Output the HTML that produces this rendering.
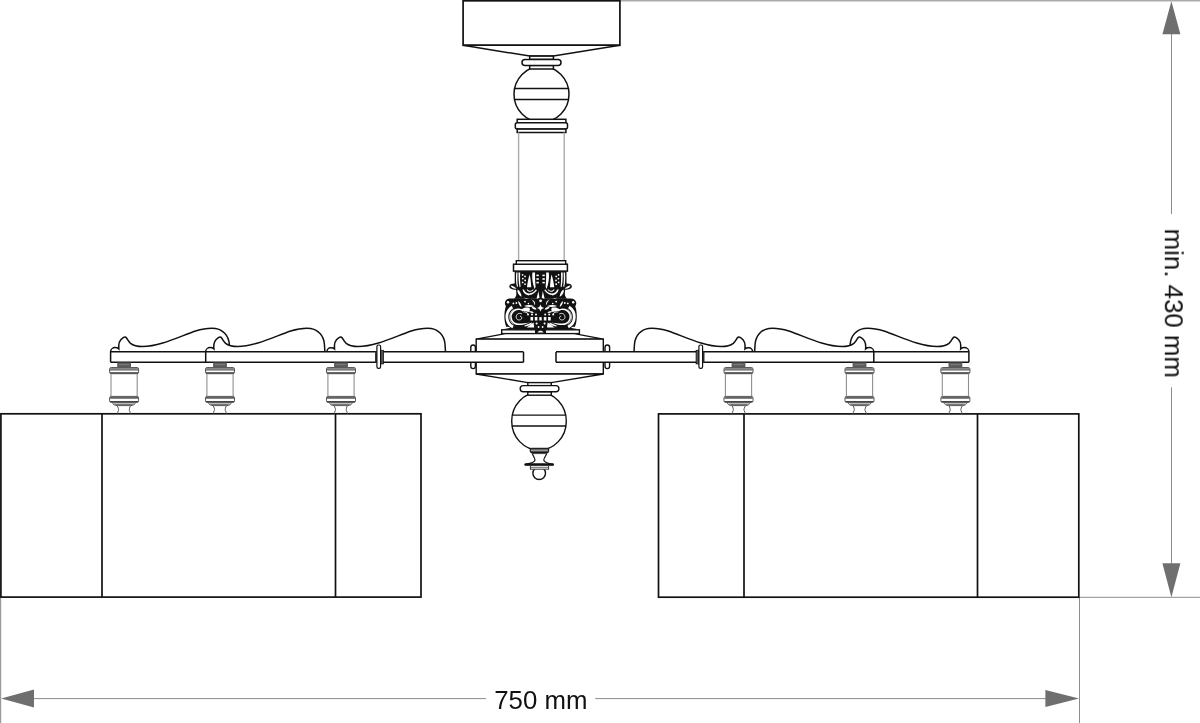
<!DOCTYPE html>
<html><head><meta charset="utf-8">
<style>
html,body{margin:0;padding:0;background:#fff;}
body{width:1200px;height:723px;overflow:hidden;position:relative;}
svg{position:absolute;left:0;top:0;display:block;}
text{font-family:"Liberation Sans",sans-serif;}
</style></head><body>
<svg width="1200" height="723" viewBox="0 0 1200 723">
<defs>
  <!-- scroll piece, origin at peak x -->
  <path id="scrollF" d="M -14.9,362.3 L -14.9,351.6 C -14.8,349.2 -12.6,347.6 -10.5,347.6 C -9,347.6 -7.6,348.1 -6.7,348.9 C -7.2,344.2 -5.6,339.8 -2.6,337.9 C -1.3,337.1 0.2,336.9 0.9,337.7 C 2,339.2 3,341.6 5,343.4 C 8,345.8 12,346.6 17,346.6 C 35,346.4 55,336 70,331 C 78,328.5 85,327.8 90,328.4 C 97,329.5 103,335 103.8,344 L 104.3,351.9 L -14.9,351.9 Z" fill="#fff" stroke="none"/>
  <path id="scrollL" d="M -14.9,362.3 L -14.9,351.6 C -14.8,349.2 -12.6,347.6 -10.5,347.6 C -9,347.6 -7.6,348.1 -6.7,348.9 C -7.2,344.2 -5.6,339.8 -2.6,337.9 C -1.3,337.1 0.2,336.9 0.9,337.7 C 2,339.2 3,341.6 5,343.4 C 8,345.8 12,346.6 17,346.6 C 35,346.4 55,336 70,331 C 78,328.5 85,327.8 90,328.4 C 97,329.5 103,335 103.8,344 L 104.3,351.9" fill="none"/>
  <path id="scroll3F" d="M -14.3,351.9 C -14.3,349.6 -12.6,347.8 -10.5,347.8 C -9,347.8 -7.6,348.1 -6.7,348.9 C -7.2,344.2 -5.6,339.8 -2.6,337.9 C -1.3,337.1 0.2,336.9 0.9,337.7 C 2,339.2 3,341.6 5,343.4 C 8,345.8 12,346.6 17,346.6 C 35,346.4 55,336 70,331 C 78,328.5 85,327.8 90,328.4 C 97,329.5 103,335 103.8,344 L 104.3,351.9 Z" fill="#fff" stroke="none"/>
  <path id="scroll3L" d="M -14.3,351.9 C -14.3,349.6 -12.6,347.8 -10.5,347.8 C -9,347.8 -7.6,348.1 -6.7,348.9 C -7.2,344.2 -5.6,339.8 -2.6,337.9 C -1.3,337.1 0.2,336.9 0.9,337.7 C 2,339.2 3,341.6 5,343.4 C 8,345.8 12,346.6 17,346.6 C 35,346.4 55,336 70,331 C 78,328.5 85,327.8 90,328.4 C 97,329.5 103,335 103.8,344 L 104.3,351.9" fill="none"/>
  <g id="cup">
    <rect x="-6.9" y="362.4" width="13.8" height="5" fill="#5c5c5c"/>
    <line x1="-5" y1="364.6" x2="5" y2="364.6" stroke="#888" stroke-width="0.8"/>
    <rect x="-14.5" y="367.5" width="29" height="6.2" rx="1.6" fill="#fff" stroke="#555" stroke-width="1"/>
    <rect x="-14" y="367.9" width="28" height="1.8" fill="#888"/>
    <line x1="-14.5" y1="370" x2="14.5" y2="370" stroke="#444" stroke-width="0.9"/>
    <rect x="-14" y="372.2" width="28" height="1.4" fill="#444"/>
    <line x1="-13.1" y1="373.7" x2="-13.1" y2="396.4" stroke="#8f8f8f" stroke-width="1.1"/>
    <line x1="13.1" y1="373.7" x2="13.1" y2="396.4" stroke="#8f8f8f" stroke-width="1.1"/>
    <rect x="-14.5" y="396.4" width="29" height="6" rx="1.6" fill="#fff" stroke="#555" stroke-width="1"/>
    <rect x="-14" y="396.7" width="28" height="2.1" fill="#666"/>
    <rect x="-14" y="401" width="28" height="1.2" fill="#444"/>
    <path d="M -11.8,402.4 L 11.6,402.4 C 11,404.4 9,405.6 6.6,405.6 L -7,405.6 C -9.4,405.6 -11.2,404.4 -11.8,402.4 Z" fill="#fff" stroke="#555" stroke-width="1"/>
    <path d="M -10.6,403.4 L 10.4,403.4 C 9.6,404.6 8.4,405 6.6,405 L -7,405 C -8.8,405 -10,404.6 -10.6,403.4 Z" fill="#777"/>
    <path d="M -7,405.6 C -6,407.5 -5.2,409 -5.6,410.5 C -6,411.8 -6.9,412.8 -6.9,413.8" fill="none" stroke="#555" stroke-width="1"/>
    <path d="M 6.4,405.6 C 5.6,407.5 5,409 5.3,410.5 C 5.7,411.8 6.6,412.8 6.6,413.8" fill="none" stroke="#555" stroke-width="1"/>
  </g>
</defs>

<!-- ===== dimension lines ===== -->

<g stroke="#8c8c8c" stroke-width="1" fill="none">
  <line x1="620" y1="0.75" x2="1200" y2="0.75" stroke="#ababab" stroke-width="1.5"/>
  <line x1="1171.5" y1="30" x2="1171.5" y2="214"/>
  <line x1="1171.5" y1="387.3" x2="1171.5" y2="566"/>
  <line x1="1079" y1="597.3" x2="1200" y2="597.3"/>
  <line x1="1079.5" y1="597.3" x2="1079.5" y2="723"/>
  <line x1="0.6" y1="597.3" x2="0.6" y2="723" stroke="#9a9a9a" stroke-width="1.2"/>
  <line x1="30" y1="698.6" x2="486" y2="698.6"/>
  <line x1="595.3" y1="698.6" x2="1050" y2="698.6"/>
</g>
<g fill="#6f6f6f" stroke="none">
  <polygon points="1171.4,1.2 1162.4,34.3 1180.4,34.3"/>
  <polygon points="1171.4,597.2 1162.4,563.3 1180.4,563.3"/>
  <polygon points="1.2,698.6 34,689.5 34,707.6"/>
  <polygon points="1079,698.5 1045.4,689.9 1045.4,706.9"/>
</g>
<text x="494.2" y="708.7" font-size="25.8" fill="#111" style="will-change:transform">750 mm</text>
<text transform="translate(1164.8,228.6) rotate(90)" x="0" y="0" font-size="25.85" fill="#111" style="will-change:transform">min. 430 mm</text>

<!-- ===== shades ===== -->
<g fill="none" stroke="#111" stroke-width="1.7">
  <rect x="0.9" y="413.8" width="420.1" height="183.3"/>
  <line x1="102" y1="413.8" x2="102" y2="597.1"/>
  <line x1="335.5" y1="413.8" x2="335.5" y2="597.1"/>
  <rect x="658.5" y="413.9" width="420.3" height="183.3"/>
  <line x1="744" y1="413.9" x2="744" y2="597.2"/>
  <line x1="977.5" y1="413.9" x2="977.5" y2="597.2"/>
</g>

<!-- ===== canopy + upper stem ===== -->
<g fill="#fff" stroke="#111" stroke-width="1.5">
  <rect x="463.1" y="0.8" width="156.8" height="44.5" stroke-width="1.7"/>
  <polygon points="463.1,45.3 529.7,56.1 553.4,56.1 619.9,45.3"/>
  <ellipse cx="541.5" cy="94.2" rx="27.5" ry="28"/>
  <rect x="529.7" y="56.1" width="23.7" height="3.3"/>
  <rect x="529.7" y="65.4" width="23.7" height="3.6"/>
  <rect x="522" y="59.4" width="39" height="6" rx="3"/>
  <line x1="514.4" y1="88.5" x2="568.6" y2="88.5"/>
  <line x1="514.2" y1="99.4" x2="568.8" y2="99.4"/>
  <rect x="517.2" y="119.3" width="48.7" height="3.5"/>
  <rect x="515.3" y="122.8" width="52.2" height="6.3" rx="2"/>
  <rect x="517.2" y="129.1" width="48.7" height="3.4"/>
</g>
<g stroke="#aaa" stroke-width="1.4">
  <line x1="518.6" y1="132.5" x2="518.6" y2="260.7"/>
  <line x1="564.2" y1="132.5" x2="564.2" y2="260.7"/>
</g>

<!-- ===== capital ===== -->
<g id="capL">
  <!-- lower (volute band) solid -->
  <path d="M 541.2,298.6 L 516.6,298.6 L 511,298.4 C 508.2,298.3 505.4,299.6 505,302.2 C 504.7,304 505.3,305.3 506,306 C 504.5,310 504,316 504.7,321 C 505.1,324 506,326.3 507,328 L 503,329.8 L 541.2,329.8 Z" fill="#111"/>
  <!-- upper foliage -->
  <path d="M 541.2,271 L 514.7,271 L 514.7,283.5 C 512.3,283.4 509.4,284 509.3,286.2 C 509.3,288.6 512,289.6 516,289.8 L 516.4,294 C 516.2,296 515.4,297.6 514,298.8 L 541.2,298.8 Z" fill="#111"/>
  <g fill="#fff">
    <path d="M 516.2,272.6 C 515.8,278 515.9,283 517,287 L 517.9,286.6 C 517.3,282 517.3,277 517.6,272.6 Z"/>
    <path d="M 518.5,272.6 C 518.4,278 518.6,283 519.6,287.2 L 520.6,286.8 C 520,282 520,277 520.2,272.6 Z"/>
    <path d="M 510.6,285.4 C 512.6,285.6 515,286.6 516.6,288.6 C 514.2,289 511.4,288 510.6,285.4 Z"/>
    <circle cx="522.6" cy="274.8" r="0.9"/><circle cx="525" cy="276.4" r="0.9"/><circle cx="522.8" cy="278.6" r="0.9"/>
    <circle cx="525.2" cy="280.4" r="0.9"/><circle cx="522.6" cy="282.4" r="0.9"/><circle cx="525" cy="284.2" r="0.9"/>
    <path d="M 529.6,274.4 C 528.4,278.4 527.4,283 527,287.2 L 531.2,287.2 C 531,283 530.6,278.4 529.6,274.4 Z"/>
    <path d="M 532.4,272.4 C 531.8,277 532.4,283 534.6,289 L 535.6,287 C 535.2,282 534.9,277 535.1,272.4 Z"/>
    <rect x="536.4" y="274.6" width="2.4" height="1.6"/>
    <rect x="536.4" y="278.2" width="2.4" height="1.6"/>
    <rect x="536.4" y="281.8" width="2.4" height="1.6"/>
    <path d="M 538.4,291 L 536.6,298.6 L 539.6,298.6 Z"/>
    <path d="M 517.6,289.6 C 519.6,290.6 521.2,293.2 521.6,296.8 C 519.6,296 518,294 517.4,291.6 Z"/>
    <path d="M 522.6,289.4 C 523.4,295.6 532,297.6 537,290 L 535.8,289.6 C 532.2,295 525.6,294.4 524,289.4 Z"/>
    <path d="M 526.6,289.4 C 527.8,292.4 532,292.6 533.8,289.6 L 532.8,289.4 C 531.4,291.2 528.6,291.2 527.8,289.4 Z"/>
    <circle cx="528.4" cy="294.8" r="0.8"/>
    <path d="M 523.4,297.6 C 525.4,298.2 527,298.4 529,298.2 C 527,299 525,298.8 523.4,297.6 Z"/>
  </g>
  <g fill="#fff">
    <path d="M 531.4,299.4 C 534.6,300.4 535.8,302.4 534.8,305.6 C 534.2,302.6 533.2,300.8 531.4,299.4 Z"/>
    <path d="M 521.2,309.6 C 523.8,307.2 527,307.1 529.4,307.8 C 530.4,309.5 529.8,311.2 528.6,311.9 C 526,311.8 523.2,311 521.2,309.6 Z"/>
    <path d="M 523.6,310.26 A 8.3,8.3 0 1 0 518.5,325.1 C 522.4,325.1 526.4,324.3 530,322.2 C 526.4,323.2 522.4,323.6 518.5,323.6 A 6.8,6.8 0 1 1 522.69,311.44 Z"/>
    <path d="M 526.6,327.4 L 533.6,322.4 L 534.2,327.4 Z"/>
    <rect x="530.5" y="317" width="2.6" height="3.5"/>
    <rect x="534.8" y="317" width="2.6" height="3.5"/>
    <circle cx="528" cy="314.5" r="1"/><circle cx="532" cy="314.5" r="1"/><circle cx="536" cy="314.5" r="1"/>
    <circle cx="508" cy="302.3" r="1.2"/>
    <path d="M 518,301 C 520,302 521.5,304.5 521.5,307 C 519.5,306 518.3,303.5 518,301 Z"/>
    <path d="M 531.6,307.2 C 533.6,306.6 535.6,307.4 536.6,309.4 C 534.6,309.8 532.6,309 531.6,307.2 Z"/>
    <circle cx="536.6" cy="323.6" r="1"/><circle cx="538.6" cy="327" r="0.9"/>
    <path d="M 505.4,328.2 C 506.6,326.6 508.6,326.4 510.2,327.4 C 508.6,328.4 506.8,328.6 505.4,328.2 Z"/>
    <path d="M 528.6,311.6 C 530.4,311 532.6,311.4 534,312.6 C 532.2,313.2 530.2,312.8 528.6,311.6 Z"/>
    <path d="M 524.6,325.6 C 527,324.6 529.6,323.6 531.6,322.6 L 531.8,324 C 529.6,325.4 527,326.4 524.6,326.6 Z"/>
    <path d="M 524,306 C 527,304.6 531,304.8 534.4,306.2 C 531.4,307.2 527.4,307.2 524,306 Z"/>
    <circle cx="513.4" cy="303.4" r="0.9"/><circle cx="516.4" cy="303" r="0.9"/><circle cx="525" cy="301.6" r="0.9"/><circle cx="528.4" cy="303.6" r="0.8"/>
  </g>
  <g fill="none" stroke="#fff">
    <path d="M 522,314 C 519.6,312.4 516.2,313.8 516.2,317 C 516.2,319.8 519.4,320.8 521.2,319.2 C 522.4,318 521.6,316 520,316.2" stroke-width="0.8"/>
    <path d="M 512.35,306.96 A 11.6,11.6 0 0 0 513.05,327.04" stroke-width="2.8"/>
    <path d="M 513.6,309.4 A 9.4,9.4 0 0 0 513.4,324.6" stroke-width="0.7"/>
    <path d="M 528.4,314 C 526.6,312.2 525,311.8 523.4,312" stroke-width="0.9"/>
  </g>
</g>
<use href="#capL" transform="translate(1081.2,0) scale(-1,1)"/>
<g fill="#fff">
  <rect x="539.3" y="317.1" width="2.4" height="3.3"/>
  <path d="M 540.5,304.4 L 541.7,307 L 544.2,308 L 541.7,309 L 540.5,311.6 L 539.3,309 L 536.8,308 L 539.3,307 Z"/>
</g>
<circle cx="540.6" cy="300.8" r="3" fill="#111"/>
<circle cx="540.6" cy="300.8" r="1.4" fill="#fff"/>
<rect x="501.7" y="329.8" width="77.7" height="3.8" fill="#fff" stroke="#111" stroke-width="1.4"/>
<path d="M 535,334 L 535,330 C 537,327 544,327 546,330 L 546,334 Z" fill="#111"/>
<path d="M 537.5,332.5 C 538.5,330.3 542.5,330.3 543.5,332.5 Z" fill="#fff"/>
<rect x="513.5" y="264.2" width="53.9" height="6.9" fill="#fff" stroke="#111" stroke-width="1.5"/>
<rect x="516.3" y="260.7" width="49.4" height="3.5" fill="#fff" stroke="#111" stroke-width="1.4"/>

<!-- ===== hub ===== -->
<g fill="#fff" stroke="#111" stroke-width="1.4">
  <polygon points="505.2,333.6 476.2,339.1 603.3,339.1 574.3,333.6"/>
  <rect x="476.2" y="339.1" width="127.1" height="34.9"/>
  <polygon points="476.2,374 527.7,382.6 551.3,382.6 603.3,374"/>
  <rect x="470.8" y="345" width="4.6" height="23.6" rx="2.3"/>
  <rect x="605" y="345" width="4.6" height="23.6" rx="2.3"/>
</g>

<!-- ===== left arm ===== -->
<g id="arm" stroke="#111" stroke-width="1.5" fill="#fff">
  <rect x="110.6" y="351.9" width="412.9" height="10.4" stroke="none"/>
  <line x1="110.6" y1="362.3" x2="523.5" y2="362.3"/>
  <line x1="523.5" y1="351.9" x2="523.5" y2="362.3"/>
  <use href="#scrollF" x="125.5"/><use href="#scrollL" x="125.5"/>
  <use href="#scrollF" x="220.6"/><use href="#scrollL" x="220.6"/>
  <use href="#scroll3F" x="341.2"/><use href="#scroll3L" x="341.2"/>
  <line x1="110.6" y1="351.8" x2="523.5" y2="351.8" fill="none" stroke-width="1.6"/>
  <!-- washer on arm -->
  <rect x="375" y="351.5" width="2" height="11.2" fill="#333" stroke="none"/>
  <rect x="380.4" y="350.3" width="3" height="13.6" fill="#555" stroke="#111" stroke-width="0.8"/>
  <rect x="376.9" y="345" width="3.7" height="23.3" rx="1.6" stroke-width="1.2"/>
  <g stroke="none"><use href="#cup" x="124.1"/><use href="#cup" x="220"/><use href="#cup" x="341"/></g>
</g>
<use href="#arm" transform="translate(1079.5,0) scale(-1,1)"/>

<!-- ===== lower stem ===== -->
<g fill="#fff" stroke="#111" stroke-width="1.4">
  <ellipse cx="539" cy="421.2" rx="27.3" ry="28.9"/>
  <rect x="527.8" y="382.6" width="23.5" height="3"/>
  <rect x="527.8" y="391.7" width="23.5" height="3.5"/>
  <rect x="520.2" y="385.6" width="38.7" height="6.1" rx="3"/>
  <line x1="512" y1="415.1" x2="566" y2="415.1"/>
  <line x1="511.9" y1="426" x2="566.1" y2="426"/>
  <!-- finial -->
  <circle cx="539.2" cy="473.2" r="6.3"/>
  <rect x="530.3" y="448.4" width="18.3" height="4.1" rx="1.2" fill="#555" stroke="#222" stroke-width="1.2"/>
  <rect x="531" y="449.8" width="17" height="1" fill="#aaa" stroke="none"/>
  <path d="M 532,452.6 L 547,452.6 C 546.4,455.5 544,457.4 543.8,460 C 543.8,462.6 549,463.6 553.6,464.6 L 524.8,464.6 C 529.4,463.6 535,462.6 535,460 C 534.8,457.4 532.6,455.5 532,452.6 Z" stroke-width="1.2"/>
  <line x1="532" y1="453.6" x2="547" y2="453.6" stroke="#444" stroke-width="1"/>
  <line x1="525.6" y1="464.5" x2="552.8" y2="464.5" stroke-width="2.4" stroke-linecap="round"/>
  <rect x="530.4" y="465.6" width="18.2" height="3.6" fill="#fff" stroke="#333" stroke-width="1"/>
  <line x1="531" y1="467.4" x2="548" y2="467.4" stroke="#666" stroke-width="0.9"/>
</g>
</svg>
</body></html>
